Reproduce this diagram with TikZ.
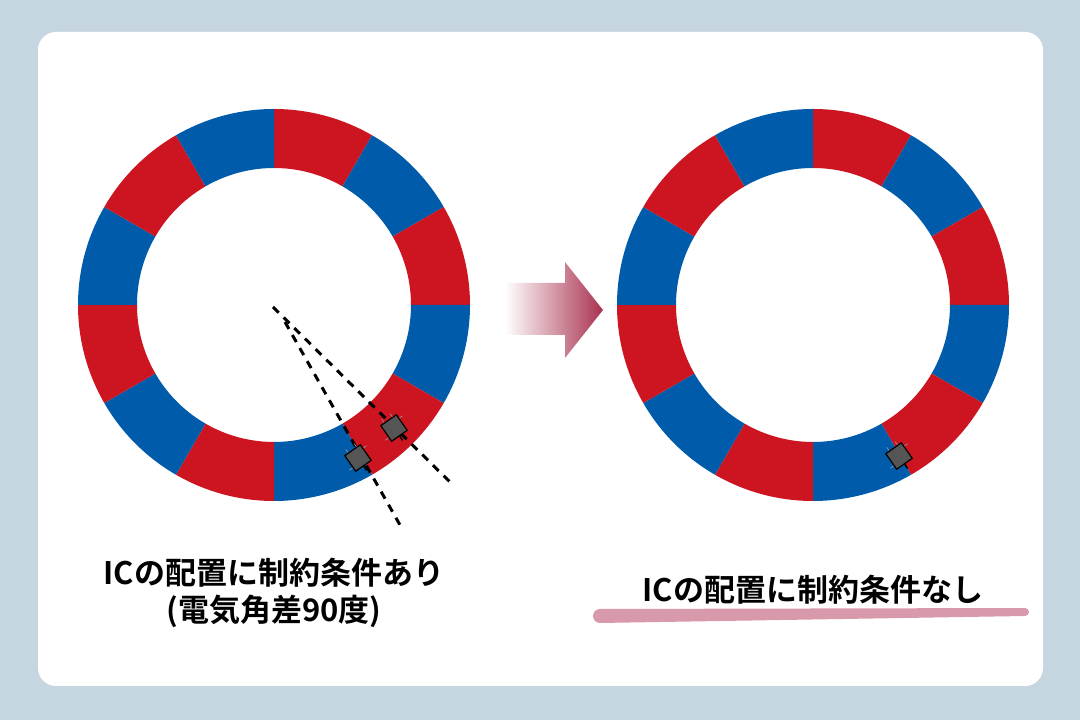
\documentclass[tikz,border=0pt]{standalone}
\usepackage{fontspec}
\setmainfont{Noto Sans CJK JP}[BoldFont={Noto Sans CJK JP Bold}]
\usetikzlibrary{positioning,calc}
\definecolor{bgblue}{HTML}{C6D6E1}
\definecolor{magred}{HTML}{CD1421}
\definecolor{magblue}{HTML}{005CAA}
\definecolor{arrowpink}{HTML}{A9324F}
\definecolor{linepink}{HTML}{D89AAA}
\definecolor{chipgray}{HTML}{555555}

\begin{document}
\begin{tikzpicture}[
    x=1pt, y=1pt,
    % Styles
    caption/.style={% for the texts under the rings
        font=\bfseries\fontsize{31}{38}\selectfont,
        inner sep=0pt,
        align=center,
        },
    chip/.style={% for the hall ICs
        rectangle,
        draw=black,
        line width=1.2pt,
        fill=chipgray,
        minimum size=19pt,
        inner sep=0pt,
        },
    sensorline/.style={% dashed lines to the ICs
        line width=3pt,
        dash pattern=on 8pt off 7pt,
        },
    ]
    \useasboundingbox (0,0) rectangle (1080,720);
    \fill[bgblue] (0,0) rectangle (1080,720);
    \fill[white, rounded corners=18pt] (38,34) rectangle (1043,688);

    % ring centres
    \coordinate (cl) at (274,415);
    \coordinate (cr) at (813,415);

    % Draw the magnet rings
    \foreach \c in {cl,cr}{
        \foreach \i in {0,...,11}{
            \pgfmathsetmacro{\a}{90-30*\i}
            \pgfmathsetmacro{\b}{60-30*\i}
            \pgfmathparse{mod(\i,2)==0 ? "magred" : "magblue"}
            \edef\col{\pgfmathresult}
            \fill[\col] ($(\c)+(\a:196)$) arc[start angle=\a, end angle=\b, radius=196]
                -- ($(\c)+(\b:137)$) arc[start angle=\b, end angle=\a, radius=137] -- cycle;
        }
    }

    % Dashed lines
    \coordinate (la) at (273,413);
    \coordinate (lb) at (285,398);
    \coordinate (ea) at (453,235);
    \coordinate (eb) at (400,195);
    \draw[sensorline] (la) -- (ea);
    \draw[sensorline] (lb) -- (eb);

    % Draw ICs
    \foreach \n/\p in {ic1/{358,262}, ic2/{394,292}, ic3/{899,264}}{
        \node[chip, rotate=35] (\n) at (\p) {};
    }
    \foreach \n in {ic1,ic2,ic3}{
        \draw[black, line width=1.5pt] (\n.south) -- ++(-55:5);
        \draw[chipgray!60, line width=0.6pt] ($(\n.north)!0.5!(\n.north west)$) -- ++(125:4);
        \draw[chipgray!60, line width=0.6pt] ($(\n.north)!0.5!(\n.north east)$) -- ++(125:4);
        \draw[chipgray!60, line width=0.6pt] ($(\n.west)!0.5!(\n.south west)$) -- ++(215:4);
        \draw[chipgray!60, line width=0.6pt] ($(\n.east)!0.5!(\n.north east)$) -- ++(35:4);
    }

    % Arrow between the rings
    \shade[left color=white, right color=arrowpink]
        (505,437) -- (565,437) -- (565,458) -- (603,410) -- (565,362)
        -- (565,385) -- (505,385) -- cycle;

    % Captions
    \node[caption] (tl1) at (274,147) {ICの配置に制約条件あり};
    \node[caption, below=7pt of tl1] (tl2) {(電気角差90度)};
    \node[caption] (tr) at (813,130) {ICの配置に制約条件なし};

    % Underline
    \coordinate (u1) at (600,104);
    \coordinate (u2) at (1025,108);
    \fill[linepink] (u1) ++(0,-7) -- ($(u2)+(0,-4)$) -- ($(u2)+(0,4)$) -- ($(u1)+(0,7)$) -- cycle;
    \fill[linepink] (u1) circle (7);
    \fill[linepink] (u2) circle (4);
\end{tikzpicture}
\end{document}
